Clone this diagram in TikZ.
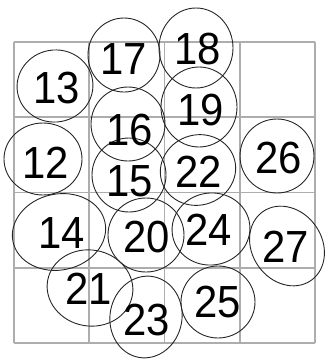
\documentclass[tikz,border=0pt]{standalone}
\usepackage{fontspec}
\setmainfont{Liberation Sans}
\begin{document}
\begin{tikzpicture}[x=1pt,y=-1pt,
  gridline/.style={draw=black!32,line width=1.8pt},
  oval/.style={draw=black!85,line width=0.9pt},
  num/.style={inner sep=0pt,font=\fontsize{45}{45}\selectfont,text=black,xscale=0.93}]
\useasboundingbox (0,0) rectangle (325,360);
% grid
\foreach \i in {0,...,4}{
  \draw[gridline] (14,{42+75.25*\i}) -- (315,{42+75.25*\i});
  \draw[gridline] ({14+75.25*\i},42) -- ({14+75.25*\i},343);
}
% ovals
\draw[oval,rotate around={10:(55,86)}] (55,86) ellipse [x radius=38,y radius=36];
\draw[oval] (124,55) ellipse [x radius=36,y radius=37];
\draw[oval] (196,48) ellipse [x radius=37,y radius=40];
\draw[oval] (199,107) ellipse [x radius=38,y radius=40];
\draw[oval] (128,124) ellipse [x radius=37,y radius=37];
\draw[oval] (43,159) ellipse [x radius=39,y radius=36];
\draw[oval] (277,156) ellipse [x radius=37,y radius=37];
\draw[oval] (129,175) ellipse [x radius=37,y radius=37];
\draw[oval,rotate around={20:(198,170)}] (198,170) ellipse [x radius=38,y radius=35];
\draw[oval,rotate around={12:(59,232)}] (59,232) ellipse [x radius=47,y radius=38];
\draw[oval] (146,235) ellipse [x radius=38,y radius=37];
\draw[oval,rotate around={8:(211,229)}] (211,229) ellipse [x radius=39,y radius=36];
\draw[oval,rotate around={-55:(287,246)}] (287,246) ellipse [x radius=42,y radius=35];
\draw[oval,rotate around={-10:(90,288)}] (90,288) ellipse [x radius=43,y radius=38];
\draw[oval,rotate around={-10:(146,317)}] (146,317) ellipse [x radius=36,y radius=41];
\draw[oval] (218,302) ellipse [x radius=37,y radius=36];
% numbers
\node[num] (n13) at (57,88) {13};
\node[num] (n17) at (124,59) {17};
\node[num] (n18) at (198,49) {18};
\node[num] (n19) at (201,110) {19};
\node[num] (n16) at (130,130) {16};
\node[num] (n12) at (46,163) {12};
\node[num] (n26) at (279,158) {26};
\node[num] (n15) at (130,181) {15};
\node[num] (n22) at (199,172) {22};
\node[num] (n14) at (62,233) {14};
\node[num] (n20) at (147,237) {20};
\node[num] (n24) at (209,230) {24};
\node[num] (n27) at (286,247) {27};
\node[num] (n21) at (89,289) {21};
\node[num] (n23) at (147,320) {23};
\node[num] (n25) at (218,302) {25};
\end{tikzpicture}
\end{document}
